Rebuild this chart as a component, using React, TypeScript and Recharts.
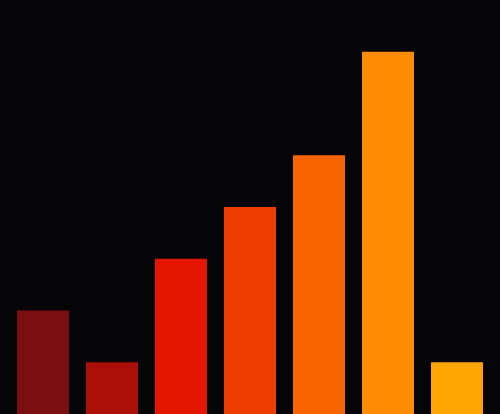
import { BarChart, Bar, XAxis, YAxis, Cell } from 'recharts';

const categories = ['A', 'B', 'C', 'D', 'E', 'F', 'G'];
const values = [2, 1, 3, 4, 5, 7, 1];
const colors = ['#7a0e10', '#ab0f08', '#e51600', '#ee3d00', '#f86400', '#ff8c00', '#ffa400'];

const data = categories.map((name, i) => ({ name, value: values[i] }));

export default function App() {
  return (
    <div style={{ position: 'absolute', left: 0, top: 0, width: 500, height: 414, background: '#050407' }}>
      <BarChart
        width={500}
        height={414}
        data={data}
        margin={{ top: 0, right: 8.5, left: 8.5, bottom: 0 }}
        barCategoryGap={8.5}
      >
        <XAxis dataKey="name" hide />
        <YAxis hide domain={[0, 8]} />
        <Bar dataKey="value" isAnimationActive={false}>
          {data.map((entry, index) => (
            <Cell key={`cell-${index}`} fill={colors[index]} />
          ))}
        </Bar>
      </BarChart>
    </div>
  );
}
